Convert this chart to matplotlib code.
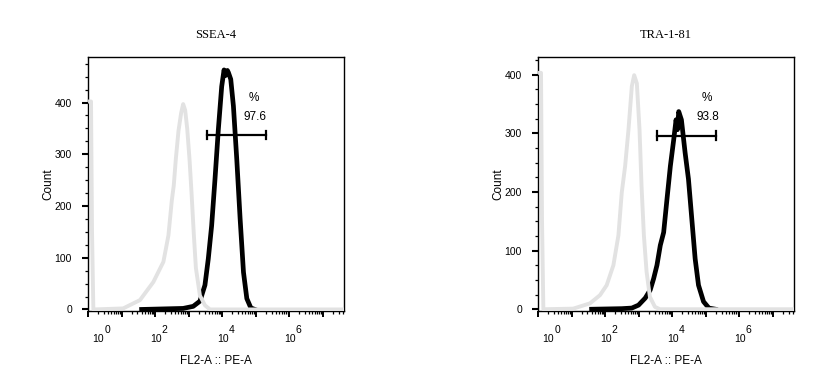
import numpy as np
import matplotlib
matplotlib.use("Agg")
import matplotlib.pyplot as plt
from matplotlib.ticker import MultipleLocator, FixedLocator, NullFormatter

plt.rcParams['font.family'] = ['Liberation Sans', 'DejaVu Sans']

# panel titles / gate text
titles = ["SSEA-4", "TRA-1-81"]
gate_pct = ["97.6", "93.8"]

# histogram curves, x in log10 units (FL2-A), y in counts
ssea4_iso_x = [0.06, 0.09, 0.12, 0.16, 1.05, 1.55, 1.95, 2.25, 2.40, 2.50, 2.56, 2.62, 2.70,
               2.78, 2.84, 2.90, 2.96, 3.03, 3.09, 3.16, 3.22, 3.34, 3.49, 3.64, 7.64]
ssea4_iso_y = [402, 402, 150, 0, 2, 18, 53, 92, 143, 210, 240, 290, 345,
               380, 397, 385, 350, 290, 225, 143, 80, 27, 8, 0, 0]
ssea4_pos_x = [1.60, 2.84, 3.14, 3.34, 3.49, 3.59, 3.69, 3.79, 3.89, 3.99, 4.06, 4.10,
               4.12, 4.16, 4.19, 4.26, 4.34, 4.44, 4.54, 4.64, 4.74, 4.86, 4.98]
ssea4_pos_y = [0, 2, 6, 16, 47, 98, 162, 252, 348, 431, 463, 452,
               455, 462, 458, 445, 393, 290, 175, 72, 21, 3, 0]

tra181_iso_x = [0.06, 0.09, 0.12, 0.16, 1.05, 1.55, 1.85, 2.05, 2.25, 2.40, 2.50, 2.60, 2.70,
                2.80, 2.87, 2.95, 3.03, 3.09, 3.16, 3.24, 3.34, 3.49, 3.64, 7.64]
tra181_iso_y = [403, 403, 150, 0, 1, 10, 24, 41, 75, 126, 199, 244, 306,
                380, 399, 385, 306, 210, 126, 64, 21, 4, 0, 0]
tra181_pos_x = [1.60, 2.50, 2.80, 3.00, 3.20, 3.35, 3.45, 3.55, 3.65, 3.75, 3.85, 3.95,
                4.05, 4.12, 4.16, 4.20, 4.28, 4.39, 4.49, 4.59, 4.69, 4.79, 4.94, 5.10, 5.30]
tra181_pos_y = [0, 1, 2, 7, 19, 33, 52, 75, 109, 131, 188, 244,
                289, 323, 306, 337, 323, 267, 222, 154, 86, 41, 13, 2, 0]

# gate bars (log10 start/end, count level)
gate_lo = [3.55, 3.55]
gate_hi = [5.31, 5.30]
gate_y = [337, 296]
y_max = [488, 430]

iso_x = [ssea4_iso_x, tra181_iso_x]
iso_y = [ssea4_iso_y, tra181_iso_y]
pos_x = [ssea4_pos_x, tra181_pos_x]
pos_y = [ssea4_pos_y, tra181_pos_y]

fig = plt.figure(figsize=(8.15, 3.84), dpi=100)
lefts = [88 / 815, 538 / 815]
text_x = [0.648, 0.660]
px = 0.72  # points per pixel

for i in range(2):
    ax = fig.add_axes([lefts[i], 73 / 384, 256 / 815, 254 / 384])
    ax.set_xscale('log')
    ax.set_xlim(1, 10 ** 7.64)
    ax.set_ylim(-3, y_max[i])

    ax.plot(10 ** np.array(pos_x[i]), pos_y[i], color='black', lw=3.4,
            solid_joinstyle='round', zorder=2)
    ax.plot(10 ** np.array(iso_x[i]), iso_y[i], color='#e2e2e2', lw=2.8,
            solid_joinstyle='round', zorder=3)

    # gate
    ax.plot([10 ** gate_lo[i], 10 ** gate_hi[i]], [gate_y[i], gate_y[i]],
            color='black', lw=1.6, zorder=4)
    for gx in (gate_lo[i], gate_hi[i]):
        ax.plot([10 ** gx, 10 ** gx], [gate_y[i] - 8, gate_y[i] + 8],
                color='black', lw=1.6, zorder=4)
    ax.text(text_x[i], 0.837, "%", transform=ax.transAxes, ha='center',
            va='center', fontsize=8.5)
    ax.text(text_x[i] + 0.003, 0.764, gate_pct[i], transform=ax.transAxes,
            ha='center', va='center', fontsize=8.5)

    # x ticks: every decade, labels on even decades
    decades = [10.0 ** k for k in range(8)]
    ax.xaxis.set_major_locator(FixedLocator(decades))
    ax.xaxis.set_major_formatter(NullFormatter())
    minors = [m * 10.0 ** k for k in range(8) for m in range(2, 10)]
    ax.xaxis.set_minor_locator(FixedLocator(minors))
    ax.xaxis.set_minor_formatter(NullFormatter())
    ax.tick_params(axis='x', which='major', length=4, width=1.4,
                   direction='out')
    ax.tick_params(axis='x', which='minor', length=2.5, width=0.9,
                   direction='out')
    for k in range(0, 8, 2):
        dx = 10 if k == 0 else 0.5
        ax.annotate("10", xy=(10.0 ** k, 0), xycoords=('data', 'axes fraction'),
                    xytext=(dx * px, -31.5 * px), textcoords='offset points',
                    ha='center', va='baseline', fontsize=7.5)
        ax.annotate(str(k), xy=(10.0 ** k, 0), xycoords=('data', 'axes fraction'),
                    xytext=((dx + 6.3) * px, -22.3 * px), textcoords='offset points',
                    ha='left', va='baseline', fontsize=7.5)

    ax.yaxis.set_major_locator(MultipleLocator(100))
    ax.yaxis.set_minor_locator(MultipleLocator(25))
    ax.tick_params(axis='y', which='major', length=4.5, width=1.5, pad=7,
                   labelsize=7.5, direction='out')
    ax.tick_params(axis='y', which='minor', length=2.5, width=0.9,
                   direction='out')

    for sp in ax.spines.values():
        sp.set_linewidth(1.0)
        sp.set_color('black')

    ax.set_ylabel("Count", fontsize=8.5, labelpad=0)
    ax.set_xlabel("FL2-A :: PE-A", fontsize=8.5, labelpad=24)
    ax.set_title(titles[i], fontsize=9, family=['Liberation Serif'], pad=14)

fig.savefig("out.png", dpi=100)
